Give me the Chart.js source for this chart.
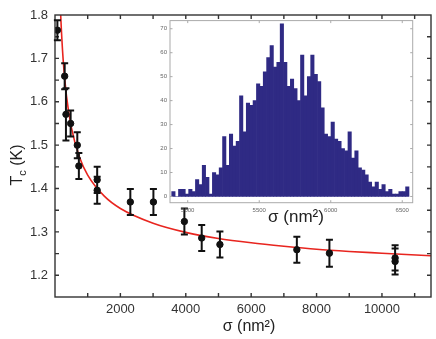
<!DOCTYPE html>
<html>
<head>
<meta charset="utf-8">
<title>Tc vs sigma</title>
<script src="https://cdn.jsdelivr.net/npm/chart.js@4"></script>
<style>
  body { margin: 0; background: #fff; }
  #wrap { position: relative; width: 436px; height: 339px; }
  #mainChart { position: absolute; left: 0; top: 0; }
  #insetChart { position: absolute; left: 150px; top: 14px; }
</style>
</head>
<body>
<div id="wrap">
  <canvas id="mainChart" width="436" height="339"></canvas>
  <canvas id="insetChart" width="280" height="215"></canvas>
</div>
<script>
// measured points with error bars
const sigma = [73, 296, 335, 478, 682, 730, 1290, 1290, 2304, 3010, 3957, 4487, 5044, 7397, 8393, 10402, 10402];
const tc    = [1.765, 1.659, 1.571, 1.550, 1.500, 1.452, 1.420, 1.396, 1.369, 1.369, 1.324, 1.286, 1.271, 1.259, 1.251, 1.240, 1.232];
const tcErr = [0.023, 0.030, 0.060, 0.030, 0.030, 0.030, 0.030, 0.031, 0.030, 0.030, 0.030, 0.030, 0.030, 0.030, 0.031, 0.029, 0.030];

// red fit line
const fitSigma = [150, 174, 250, 350, 500, 750, 1000, 1500, 2000, 3000, 4000, 5000, 6000, 7000, 8000, 9000, 10000, 11500];
const fitTc    = [1.850, 1.800, 1.696, 1.614, 1.541, 1.472, 1.431, 1.383, 1.354, 1.320, 1.299, 1.285, 1.275, 1.267, 1.260, 1.255, 1.251, 1.245];

const xLabels = [2000, 4000, 6000, 8000, 10000];
const yLabels = [1.2, 1.3, 1.4, 1.5, 1.6, 1.7, 1.8];
const xTickMarks = [1000, 2000, 3000, 4000, 5000, 6000, 7000, 8000, 9000, 10000, 11000];
const yTickMarks = [1.2, 1.25, 1.3, 1.35, 1.4, 1.45, 1.5, 1.55, 1.6, 1.65, 1.7, 1.75];

// inset histogram
const histStart = 4888;
const histWidth = 23.7;
const histCounts = [2, 0, 3, 3, 1, 3, 2, 7, 5, 13,
                    8, 1, 10, 9, 12, 25, 13, 26, 21, 23,
                    42, 27, 39, 38, 40, 47, 46, 52, 58, 63,
                    54, 56, 72, 56, 46, 49, 45, 40, 59, 42,
                    50, 59, 51, 48, 37, 26, 25, 31, 24, 23,
                    20, 19, 27, 16, 19, 12, 11, 9, 6, 4,
                    6, 3, 5, 2, 3, 1, 1, 2, 2, 4];
const insetXLabels = [5000, 5500, 6000, 6500];
const insetYLabels = [0, 10, 20, 30, 40, 50, 60, 70];

const FONT = 'Liberation Sans, Arial, Helvetica, sans-serif';

// box around the plot with inward ticks on all four sides
function framePlugin(id, o) {
  return {
    id: id,
    beforeDraw(chart) {
      if (!o.fill) return;
      const a = chart.chartArea, ctx = chart.ctx;
      ctx.save();
      ctx.fillStyle = o.fill;
      ctx.fillRect(a.left, a.top, a.right - a.left, a.bottom - a.top);
      ctx.restore();
    },
    afterDatasetsDraw(chart) {
      const ctx = chart.ctx, a = chart.chartArea;
      const x = chart.scales.x, y = chart.scales.y;
      ctx.save();
      ctx.strokeStyle = o.color;
      ctx.lineWidth = o.width;
      ctx.beginPath();
      o.xTicks.forEach(v => {
        const px = x.getPixelForValue(v);
        ctx.moveTo(px, a.bottom); ctx.lineTo(px, a.bottom - o.len);
        ctx.moveTo(px, a.top); ctx.lineTo(px, a.top + o.len);
      });
      o.yTicks.forEach(v => {
        const py = y.getPixelForValue(v);
        ctx.moveTo(a.left, py); ctx.lineTo(a.left + o.len, py);
        ctx.moveTo(a.right, py); ctx.lineTo(a.right - o.len, py);
      });
      ctx.stroke();
      ctx.strokeRect(a.left, a.top, a.right - a.left, a.bottom - a.top);
      ctx.restore();
    }
  };
}

const errorBars = {
  id: 'errorBars',
  afterDatasetsDraw(chart) {
    const ctx = chart.ctx, x = chart.scales.x, y = chart.scales.y;
    ctx.save();
    ctx.strokeStyle = '#111';
    ctx.lineWidth = 2;
    ctx.beginPath();
    sigma.forEach((s, i) => {
      const px = x.getPixelForValue(s);
      const top = y.getPixelForValue(tc[i] + tcErr[i]);
      const bot = y.getPixelForValue(tc[i] - tcErr[i]);
      ctx.moveTo(px, top); ctx.lineTo(px, bot);
      ctx.moveTo(px - 3.5, top); ctx.lineTo(px + 3.5, top);
      ctx.moveTo(px - 3.5, bot); ctx.lineTo(px + 3.5, bot);
    });
    ctx.stroke();
    ctx.restore();
  }
};

const mainTitles = {
  id: 'mainTitles',
  afterDraw(chart) {
    const ctx = chart.ctx;
    ctx.save();
    ctx.fillStyle = '#222';
    ctx.textBaseline = 'middle';
    ctx.textAlign = 'center';
    ctx.font = '16px ' + FONT;
    ctx.fillText('σ (nm²)', 249, 327);

    // T_c (K), rotated
    ctx.translate(18, 165);
    ctx.rotate(-Math.PI / 2);
    ctx.textAlign = 'left';
    const big = '16px ' + FONT, small = '11px ' + FONT;
    ctx.font = big; const wT = ctx.measureText('T').width; const wK = ctx.measureText(' (K)').width;
    ctx.font = small; const wc = ctx.measureText('c').width;
    let cx = -(wT + wc + wK) / 2;
    ctx.font = big; ctx.fillText('T', cx, 0); cx += wT;
    ctx.font = small; ctx.fillText('c', cx, 5); cx += wc;
    ctx.font = big; ctx.fillText(' (K)', cx, 0);
    ctx.restore();
  }
};

new Chart(document.getElementById('mainChart'), {
  type: 'scatter',
  data: {
    datasets: [
      {
        type: 'line',
        data: fitSigma.map((s, i) => ({ x: s, y: fitTc[i] })),
        borderColor: '#e8251f',
        borderWidth: 1.6,
        pointRadius: 0,
        cubicInterpolationMode: 'monotone',
        fill: false,
        order: 2
      },
      {
        data: sigma.map((s, i) => ({ x: s, y: tc[i] })),
        backgroundColor: '#111',
        borderColor: '#111',
        pointRadius: 3.2,
        order: 1
      }
    ]
  },
  options: {
    responsive: false,
    animation: false,
    layout: { padding: { top: 15, right: 4, left: 0, bottom: 0 } },
    plugins: { legend: { display: false }, tooltip: { enabled: false } },
    scales: {
      x: {
        type: 'linear', min: 0, max: 11500,
        grid: { display: false, drawTicks: false }, border: { display: false },
        afterBuildTicks: ax => { ax.ticks = xLabels.map(v => ({ value: v })); },
        afterFit: ax => { ax.height = 42; },
        ticks: { font: { family: FONT, size: 13 }, color: '#333', padding: 5, maxRotation: 0,
                 callback: v => String(v) }
      },
      y: {
        type: 'linear', min: 1.15, max: 1.8,
        grid: { display: false, drawTicks: false }, border: { display: false },
        afterBuildTicks: ax => { ax.ticks = yLabels.map(v => ({ value: v })); },
        afterFit: ax => { ax.width = 55; },
        ticks: { font: { family: FONT, size: 13 }, color: '#333', padding: 7,
                 callback: v => Number(v).toFixed(1) }
      }
    }
  },
  plugins: [framePlugin('mainFrame', { color: '#333', width: 1.4, len: 4, xTicks: xTickMarks, yTicks: yTickMarks }), errorBars, mainTitles]
});

const insetTitle = {
  id: 'insetTitle',
  afterDraw(chart) {
    const ctx = chart.ctx;
    ctx.save();
    ctx.fillStyle = '#222';
    ctx.textAlign = 'center';
    ctx.textBaseline = 'middle';
    ctx.font = '17px ' + FONT;
    ctx.fillText('σ (nm²)', 146, 203);
    ctx.restore();
  }
};

new Chart(document.getElementById('insetChart'), {
  type: 'bar',
  data: {
    datasets: [{
      data: histCounts.map((c, i) => ({ x: histStart + histWidth * (i + 0.5), y: c })),
      backgroundColor: '#2f2a84',
      borderWidth: 0,
      barPercentage: 1,
      categoryPercentage: 1
    }]
  },
  options: {
    responsive: false,
    animation: false,
    layout: { padding: { top: 6, right: 17.3, left: 0, bottom: 0 } },
    plugins: { legend: { display: false }, tooltip: { enabled: false } },
    scales: {
      x: {
        type: 'linear', min: 4876, max: 6573, offset: false,
        grid: { display: false, drawTicks: false }, border: { display: false },
        afterBuildTicks: ax => { ax.ticks = insetXLabels.map(v => ({ value: v })); },
        afterFit: ax => { ax.height = 26.3; },
        ticks: { font: { family: FONT, size: 6 }, color: '#666', padding: 4, maxRotation: 0,
                 callback: v => String(v) }
      },
      y: {
        type: 'linear', min: -2.6, max: 73.4,
        grid: { display: false, drawTicks: false }, border: { display: false },
        afterBuildTicks: ax => { ax.ticks = insetYLabels.map(v => ({ value: v })); },
        afterFit: ax => { ax.width = 20; },
        ticks: { font: { family: FONT, size: 6 }, color: '#666', padding: 3,
                 callback: v => String(v) }
      }
    }
  },
  plugins: [framePlugin('insetFrame', { color: '#aaa', width: 1, len: 2.5, fill: '#fff', xTicks: insetXLabels, yTicks: insetYLabels }), insetTitle]
});
</script>
</body>
</html>
